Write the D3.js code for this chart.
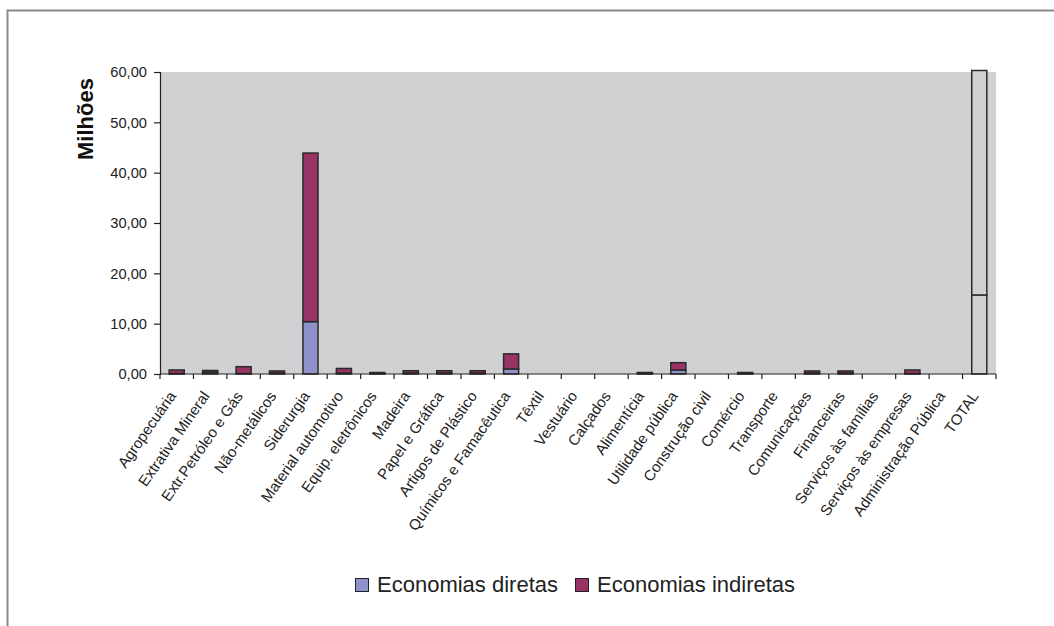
<!DOCTYPE html>
<html>
<head>
<meta charset="utf-8">
<script src="https://cdn.jsdelivr.net/npm/d3@7/dist/d3.min.js"></script>
<style>
  html, body { margin: 0; padding: 0; background: #fff; }
  svg { display: block; font-family: "Liberation Sans", Arial, sans-serif; }
</style>
</head>
<body>
<svg id="chart" width="1054" height="626"></svg>
<script>
// Sectors (x axis)
const categories = [
  "Agropecuária", "Extrativa Mineral", "Extr.Petróleo e Gás", "Não-metálicos",
  "Siderurgia", "Material automotivo", "Equip. eletrônicos", "Madeira",
  "Papel e Gráfica", "Artigos de Plástico", "Químicos e Famacêutica", "Têxtil",
  "Vestuário", "Calçados", "Alimentícia", "Utilidade pública", "Construção civil",
  "Comércio", "Transporte", "Comunicações", "Financeiras", "Serviços às famílias",
  "Serviços às empresas", "Administração Pública", "TOTAL"
];

// Savings in millions, stacked: direct at the bottom, indirect on top
const economiasDiretas = [
  0.10, 0.35, 0.10, 0.20, 10.40, 0.20, 0.10, 0.20,
  0.20, 0.20, 1.00, 0.00, 0.00, 0.00, 0.10, 0.80, 0.00,
  0.10, 0.00, 0.20, 0.20, 0.00, 0.10, 0.00, 15.70
];
const economiasIndiretas = [
  0.70, 0.35, 1.35, 0.40, 33.50, 0.90, 0.20, 0.45,
  0.45, 0.45, 3.00, 0.00, 0.00, 0.00, 0.20, 1.45, 0.00,
  0.20, 0.00, 0.40, 0.40, 0.00, 0.70, 0.00, 44.60
];

const seriesNames = ["Economias diretas", "Economias indiretas"];
const seriesColors = ["#8e92c8", "#993366"];
const yTicks = [0, 10, 20, 30, 40, 50, 60];
const totalLabel = "TOTAL";

const svg = d3.select("#chart");
const plotBg = "#d1d1d3";

// outer frame (top and left edges)
svg.append("path")
  .attr("d", "M7.5,626 L7.5,10.5 L1054,10.5")
  .attr("fill", "none").attr("stroke", "#8a8a8a").attr("stroke-width", 2);

const margin = { left: 160, top: 72, right: 996, bottom: 374 };

const x = d3.scaleBand()
  .domain(categories)
  .range([margin.left, margin.right])
  .paddingInner(0.55).paddingOuter(0.275);

const xb = d3.scaleBand().domain(categories).range([margin.left, margin.right]);

const y = d3.scaleLinear().domain([0, 60]).range([margin.bottom, margin.top]);

// plot background
svg.append("rect")
  .attr("x", margin.left).attr("y", margin.top)
  .attr("width", margin.right - margin.left)
  .attr("height", margin.bottom - margin.top)
  .attr("fill", plotBg);

// stacked data
const rows = categories.map((c, i) => ({
  cat: c,
  [seriesNames[0]]: economiasDiretas[i],
  [seriesNames[1]]: economiasIndiretas[i]
}));
const stack = d3.stack().keys(seriesNames)(rows);

const layers = svg.append("g").selectAll("g")
  .data(stack).join("g");

layers.selectAll("rect")
  .data((d, si) => d.map(p => ({ p, si })))
  .join("rect")
  .filter(d => d.p[1] - d.p[0] > 0)
  .attr("x", d => x(d.p.data.cat))
  .attr("width", x.bandwidth())
  .attr("y", d => y(d.p[1]))
  .attr("height", d => y(d.p[0]) - y(d.p[1]))
  .attr("fill", d => d.p.data.cat === totalLabel ? plotBg : seriesColors[d.si])
  .attr("stroke", "#2a2a2a")
  .attr("stroke-width", 1.5);

// y axis
const yAxis = d3.axisLeft(y)
  .tickValues(yTicks)
  .tickSize(6)
  .tickPadding(7)
  .tickFormat(d => d3.format(".2f")(d).replace(".", ","));

const gy = svg.append("g")
  .attr("transform", `translate(${margin.left},0)`)
  .call(yAxis);
gy.select(".domain").attr("stroke", "#222").attr("stroke-width", 1.2);
gy.selectAll(".tick line").attr("stroke", "#222").attr("stroke-width", 1.2);
gy.selectAll(".tick text")
  .attr("font-size", 14.7).attr("fill", "#222")
  .attr("font-family", "'Liberation Sans', Arial, sans-serif");

// y axis title
svg.append("text")
  .attr("transform", "translate(93,119) rotate(-90)")
  .attr("text-anchor", "middle")
  .attr("font-size", 22).attr("font-weight", "bold").attr("fill", "#111")
  .text("Milhões");

// x axis: ticks at category boundaries
const gx = svg.append("g").attr("transform", `translate(0,${margin.bottom})`);
gx.append("line")
  .attr("x1", margin.left).attr("x2", margin.right)
  .attr("stroke", "#222").attr("stroke-width", 1.2);
gx.selectAll("line.tk")
  .data(categories.concat([null]))
  .join("line").attr("class", "tk")
  .attr("x1", (d, i) => i < categories.length ? xb(d) : margin.right)
  .attr("x2", (d, i) => i < categories.length ? xb(d) : margin.right)
  .attr("y1", 0).attr("y2", 5)
  .attr("stroke", "#222").attr("stroke-width", 1.2);

gx.selectAll("text.lbl")
  .data(categories)
  .join("text").attr("class", "lbl")
  .attr("text-anchor", "end")
  .attr("font-size", 15).attr("fill", "#222")
  .attr("transform", d => `translate(${xb(d) + xb.bandwidth() / 2},22) rotate(-55)`)
  .text(d => d);

// legend
const legend = svg.append("g").attr("transform", "translate(355,578)");
const items = [
  { name: seriesNames[0], color: seriesColors[0], dx: 0 },
  { name: seriesNames[1], color: seriesColors[1], dx: 220 }
];
const li = legend.selectAll("g").data(items).join("g")
  .attr("transform", d => `translate(${d.dx},0)`);
li.append("rect")
  .attr("x", 0.5).attr("y", 0.5).attr("width", 13).attr("height", 13)
  .attr("fill", d => d.color).attr("stroke", "#222").attr("stroke-width", 1);
li.append("text")
  .attr("x", 22).attr("y", 14)
  .attr("font-size", 22).attr("fill", "#222")
  .text(d => d.name);
</script>
</body>
</html>
